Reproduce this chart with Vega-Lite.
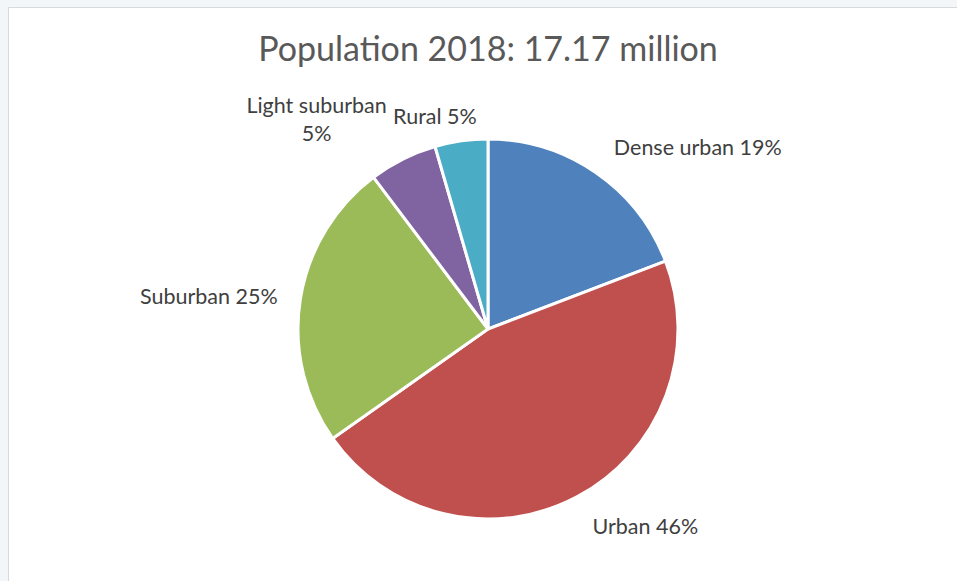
{
  "$schema": "https://vega.github.io/schema/vega-lite/v6.json",
  "width": 960,
  "height": 644,
  "autosize": {"type": "none"},
  "padding": {"left": 8, "top": 7, "right": 0, "bottom": 0},
  "background": "#F3F6F9",
  "view": {"fill": "white", "stroke": "#D9D9D9", "strokeWidth": 1},
  "title": {
    "text": "Population 2018: 17.17 million",
    "orient": "top",
    "anchor": "middle",
    "frame": "group",
    "offset": 0,
    "dy": 88,
    "baseline": "alphabetic",
    "font": "Lato",
    "fontSize": 34,
    "fontWeight": "normal",
    "color": "#595959"
  },
  "data": {
    "values": [
      {"category": "Dense urban", "rank": 1, "value": 19.2, "label": "Dense urban 19%"},
      {"category": "Urban", "rank": 2, "value": 46.1, "label": "Urban 46%"},
      {"category": "Suburban", "rank": 3, "value": 24.5, "label": "Suburban 25%"},
      {"category": "Light suburban", "rank": 4, "value": 5.8, "label": ["Light suburban", "5%"]},
      {"category": "Rural", "rank": 5, "value": 4.5, "label": "Rural 5%"}
    ]
  },
  "encoding": {
    "theta": {"field": "value", "type": "quantitative", "stack": true},
    "order": {"field": "rank", "type": "quantitative", "sort": "ascending"}
  },
  "layer": [
    {
      "mark": {"type": "arc", "radius": 190, "stroke": "white", "strokeWidth": 3},
      "encoding": {
        "color": {
          "field": "category",
          "type": "nominal",
          "scale": {
            "domain": ["Dense urban", "Urban", "Suburban", "Light suburban", "Rural"],
            "range": ["#4F81BD", "#C0504D", "#9BBB59", "#8064A2", "#4BACC6"]
          },
          "legend": null
        }
      }
    },
    {
      "mark": {
        "type": "text",
        "radius": 222,
        "font": "Lato",
        "fontSize": 21.5,
        "color": "#404040",
        "baseline": "middle",
        "lineHeight": 28,
        "align": {"expr": "datum.category === 'Dense urban' || datum.category === 'Urban' ? 'left' : (datum.category === 'Light suburban' ? 'center' : 'right')"},
        "dx": {"expr": "datum.category === 'Light suburban' ? -72 : (datum.category === 'Rural' ? 20 : (datum.category === 'Suburban' ? 9 : 0))"},
        "dy": {"expr": "datum.category === 'Light suburban' ? -24 : (datum.category === 'Rural' ? 9 : 3)"}
      },
      "encoding": {
        "text": {"field": "label"}
      }
    }
  ]
}
